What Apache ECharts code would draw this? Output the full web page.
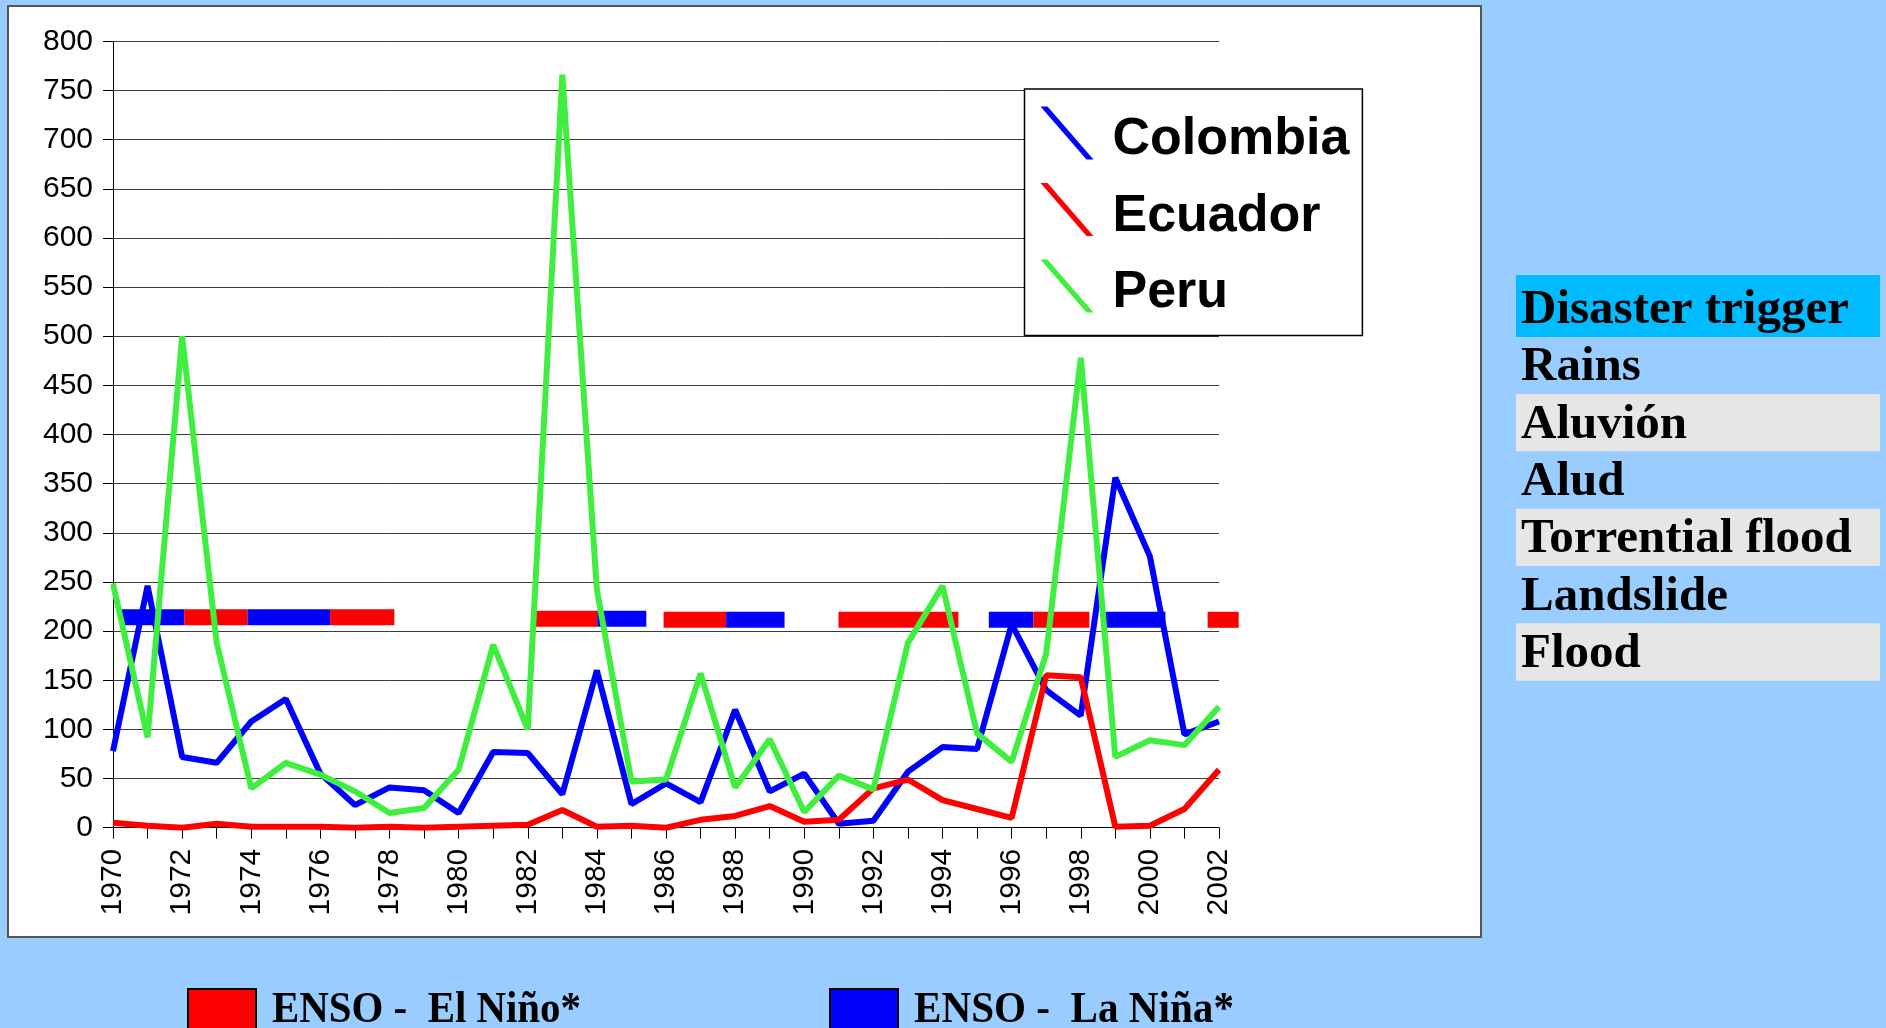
<!DOCTYPE html>
<html><head><meta charset="utf-8">
<script src="https://cdn.jsdelivr.net/npm/echarts@6/dist/echarts.min.js"></script>
<style>html,body{margin:0;padding:0;background:#99CCFF;}#c{width:1886px;height:1028px;}</style>
</head><body><div id="c"></div>
<script>
// ---- data ----
const years = [1970,1971,1972,1973,1974,1975,1976,1977,1978,1979,1980,1981,1982,1983,1984,1985,1986,1987,1988,1989,1990,1991,1992,1993,1994,1995,1996,1997,1998,1999,2000,2001,2002];
const colombia = [78,246,72,66,108,131,55,23,41,38,15,77,76,34,160,24,45,26,120,37,55,4,7,57,82,80,207,140,114,356,276,95,108];
const ecuador = [5,2,0,4,1,1,1,0,1,0,1,2,3,18,1,2,0,8,12,22,6,8,40,49,28,19,10,155,153,1,2,19,59];
const peru = [248,92,500,188,40,66,54,37,15,20,59,186,100,766,242,47,49,157,41,90,16,53,39,188,246,96,67,177,478,72,89,84,123];
const seriesNames = ['Colombia','Ecuador','Peru'];
const yTicks = {min:0, max:800, step:50};
// ENSO episodes (0 = El Niño, 1 = La Niña)
const ensoStart = [1970.23,1972.06,1973.89,1976.28,1982.13,1984.01,1985.93,1987.74,1990.99,1995.34,1996.63,1998.65,2001.67];
const ensoEnd   = [1972.06,1973.89,1976.28,1978.14,1984.01,1985.43,1987.74,1989.43,1994.46,1996.63,1998.25,2000.45,2002.57];
const ensoPhase = [1,0,1,0,0,1,0,1,0,1,0,1,0];
const ensoLevel = [214,214,214,214,212.5,212.5,211.5,211.5,211.5,211.5,211.5,211.5,211.5];
const ensoNames = ['ENSO -  El Niño*','ENSO -  La Niña*'];
const triggerTitle = 'Disaster trigger';
const triggers = ['Rains','Aluvión','Alud','Torrential flood','Landslide','Flood'];

// ---- styles ----
const COLORS = ['#0000FF','#FF0000','#40EE40'];
const SANS = '"Liberation Sans", Arial, sans-serif';
const SERIF = '"Liberation Serif", "Times New Roman", serif';

const chart = echarts.init(document.getElementById('c'), null, {renderer:'canvas'});

const mctx = document.createElement('canvas').getContext('2d');
function fitScale(txt, font, target){ mctx.font = font; return target / mctx.measureText(txt).width; }
const ensoFont = 'bold 44px ' + SERIF;
const tableFont = 'bold 49px ' + SERIF;

const graphics = [
  {type:'rect', z:-10, shape:{x:8,y:6,width:1473,height:931}, style:{fill:'#FFFFFF', stroke:'#555555', lineWidth:2}},
  {type:'rect', z:-10, shape:{x:1516,y:275,width:364,height:62}, style:{fill:'#00BBFF'}},
  {type:'text', x:1521, y:310, style:{text:triggerTitle, font:tableFont, fill:'#000', verticalAlign:'middle', align:'left'}}
];
const rowTop = 336.7, rowH = 57.33;
triggers.forEach((t,i)=>{
  if(i%2===1){
    graphics.push({type:'rect', z:-10, shape:{x:1516,y:rowTop+i*rowH,width:364,height:rowH}, style:{fill:'#E6E6E6'}});
  }
  graphics.push({type:'text', x:1521, y:rowTop+i*rowH+31, style:{text:t, font:tableFont, fill:'#000', verticalAlign:'middle', align:'left'}});
});
// bottom ENSO legend
const ensoBoxX = [188, 830];
const ensoTextX = [272, 914];
const ensoTextW = [309, 320];
ensoNames.forEach((n,i)=>{
  graphics.push({type:'rect', shape:{x:ensoBoxX[i], y:989, width:68, height:50}, style:{fill: i===0?'#FF0000':'#0000FF', stroke:'#000', lineWidth:2}});
  graphics.push({type:'text', x:ensoTextX[i], y:1011, scaleX: fitScale(n, ensoFont, ensoTextW[i]),
    style:{text:n, font:ensoFont, fill:'#000', verticalAlign:'middle', align:'left'}});
});

const lineData = [colombia, ecuador, peru];
const lineSeries = seriesNames.map((name,k)=>({
  name, type:'line', color: COLORS[k], symbol:'none', z: 3+k,
  lineStyle:{width:6, color:COLORS[k]},
  data: years.map((y,i)=>[y, lineData[k][i]])
}));

const option = {
  animation:false,
  backgroundColor:'#99CCFF',
  grid:{left:113, right:667, top:41.3, bottom:200.3, containLabel:false},
  xAxis:{type:'value', min:years[0], max:years[years.length-1], interval:1,
    axisLine:{show:true, lineStyle:{color:'#000', width:1}},
    axisTick:{show:true, length:11, lineStyle:{color:'#000'}},
    splitLine:{show:false},
    axisLabel:{rotate:90, margin:21, fontSize:30, fontFamily:SANS, color:'#000',
      formatter:(v)=> (v%2===0 ? String(v) : '')}
  },
  yAxis:{type:'value', min:yTicks.min, max:yTicks.max, interval:yTicks.step,
    axisLine:{show:true, lineStyle:{color:'#000', width:1}},
    axisTick:{show:true, length:10, lineStyle:{color:'#000'}},
    splitLine:{show:true, lineStyle:{color:'#3a3a3a', width:1}},
    axisLabel:{margin:20, fontSize:30, fontFamily:SANS, color:'#000'}
  },
  legend:{
    data: seriesNames, orient:'vertical', left:1024.5, top:89,
    padding:[17.5, 13, 9, 16],
    backgroundColor:'#FFFFFF', borderColor:'#000', borderWidth:1.5,
    itemWidth:53, itemHeight:67, itemGap:9.5,
    icon:'path://M0,0 L7,0 L53,53 L46,53 Z M0,67 L1,67 Z',
    itemStyle:{borderWidth:0},
    textStyle:{fontSize:52, fontWeight:'bold', fontFamily:SANS, color:'#000', lineHeight:53, padding:[0,0,0,14]}
  },
  graphic: graphics,
  series: [
    {
      name:'ENSO', type:'custom', z:1, clip:false,
      encode:{x:[0,1], y:3},
      data: ensoStart.map((s,i)=>[s, ensoEnd[i], ensoPhase[i], ensoLevel[i]]),
      renderItem:function(params, api){
        const a = api.coord([api.value(0), api.value(3)]);
        const b = api.coord([api.value(1), api.value(3)]);
        return {type:'rect', shape:{x:a[0], y:a[1]-8, width:b[0]-a[0], height:16},
          style:{fill: api.value(2)===0 ? '#FF0000' : '#0000FF'}};
      }
    }
  ].concat(lineSeries)
};
chart.setOption(option);
</script>
</body></html>
